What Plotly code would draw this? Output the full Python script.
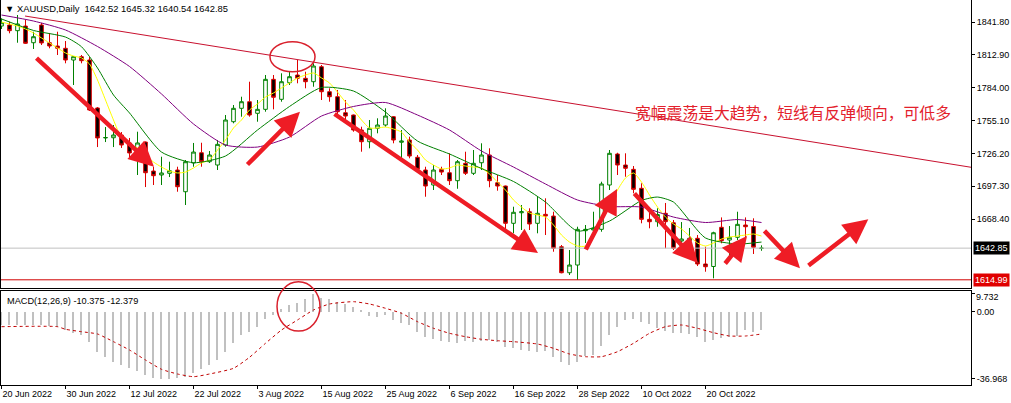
import pandas as pd
import plotly.graph_objects as go
from plotly.subplots import make_subplots

# daily bars, one per business day
dates = pd.bdate_range("2022-06-20", periods=96)

opens = [1838.3, 1839.2, 1834.2, 1838.3, 1823.6, 1839.2, 1823.6, 1820.7, 1818.7, 1808.4,
         1811.3, 1808.4, 1766.2, 1739.8, 1740.0, 1742.4, 1735.4, 1723.0, 1736.2, 1710.7,
         1707.2, 1708.7, 1711.6, 1692.5, 1717.8, 1726.8, 1718.9, 1716.0, 1733.6, 1754.1,
         1765.9, 1771.7, 1761.5, 1765.0, 1791.4, 1773.8, 1788.4, 1795.2, 1792.3, 1789.3,
         1802.5, 1780.5, 1776.1, 1762.0, 1760.0, 1746.8, 1736.5, 1748.3, 1751.2, 1758.5,
         1736.0, 1738.0, 1722.8, 1711.6, 1698.4, 1712.2, 1709.2, 1702.2, 1717.5, 1708.7,
         1718.0, 1724.8, 1700.4, 1697.5, 1664.7, 1674.0, 1674.9, 1664.7, 1672.6, 1671.1,
         1644.1, 1621.2, 1628.0, 1658.2, 1658.8, 1659.4, 1698.4, 1725.7, 1716.0, 1712.2,
         1695.5, 1668.2, 1666.1, 1673.5, 1665.2, 1649.1, 1649.4, 1651.5, 1628.9, 1626.7,
         1661.2, 1650.0, 1652.4, 1663.2, 1661.9, 1642.52]
highs = [1845.1, 1842.1, 1848.0, 1843.6, 1833.3, 1841.0, 1832.2, 1833.3, 1825.1, 1811.9,
         1812.8, 1811.0, 1767.0, 1749.4, 1751.2, 1745.0, 1739.8, 1745.3, 1736.7, 1714.5,
         1723.3, 1718.9, 1714.5, 1720.4, 1735.4, 1735.6, 1728.3, 1738.0, 1760.0, 1768.8,
         1776.1, 1789.3, 1773.2, 1795.2, 1795.2, 1796.7, 1798.1, 1808.4, 1798.1, 1805.5,
         1804.0, 1783.5, 1782.0, 1773.2, 1760.4, 1749.7, 1755.6, 1757.1, 1765.9, 1759.1,
         1746.8, 1740.9, 1724.8, 1714.5, 1716.0, 1714.5, 1726.3, 1720.4, 1727.7, 1729.2,
         1735.1, 1730.7, 1707.2, 1697.9, 1679.3, 1680.8, 1677.9, 1688.1, 1686.7, 1674.9,
         1645.6, 1641.2, 1661.7, 1663.2, 1674.9, 1701.3, 1729.2, 1726.8, 1726.3, 1715.1,
         1699.9, 1676.4, 1677.9, 1682.6, 1667.6, 1665.8, 1660.6, 1654.4, 1644.1, 1657.3,
         1669.9, 1662.3, 1674.9, 1669.9, 1669.1, 1645.32]
lows = [1835.7, 1831.9, 1823.6, 1822.5, 1818.1, 1821.6, 1818.7, 1812.8, 1805.5, 1786.4,
        1805.5, 1763.5, 1731.8, 1736.2, 1731.8, 1731.0, 1722.2, 1707.2, 1696.6, 1698.4,
        1698.4, 1705.4, 1692.5, 1680.8, 1714.5, 1714.5, 1717.8, 1711.6, 1732.1, 1752.7,
        1758.5, 1758.5, 1754.1, 1762.9, 1765.0, 1771.7, 1786.4, 1787.9, 1783.5, 1784.9,
        1773.2, 1771.7, 1760.0, 1754.1, 1745.3, 1727.7, 1730.7, 1743.9, 1749.7, 1735.1,
        1721.9, 1721.9, 1711.6, 1688.1, 1694.0, 1707.2, 1698.4, 1695.1, 1707.2, 1707.2,
        1711.6, 1696.4, 1693.4, 1658.8, 1655.9, 1658.8, 1658.8, 1655.9, 1654.4, 1639.7,
        1620.7, 1619.2, 1614.99, 1647.4, 1657.3, 1657.3, 1694.0, 1707.2, 1705.7, 1691.1,
        1664.7, 1660.3, 1661.7, 1642.7, 1641.2, 1643.0, 1642.7, 1627.1, 1622.1, 1616.3,
        1647.1, 1636.8, 1650.0, 1650.0, 1637.7, 1640.54]
closes = [1841.2, 1834.2, 1840.1, 1823.1, 1828.9, 1823.4, 1820.7, 1818.7, 1808.4, 1811.3,
          1807.8, 1764.4, 1739.8, 1740.2, 1742.4, 1733.6, 1726.6, 1735.4, 1709.2, 1706.6,
          1709.0, 1711.0, 1696.9, 1718.9, 1727.4, 1718.9, 1724.8, 1734.2, 1755.6, 1765.9,
          1771.7, 1760.0, 1765.0, 1791.4, 1775.6, 1789.3, 1793.7, 1792.3, 1789.3, 1803.1,
          1780.5, 1776.1, 1762.9, 1759.1, 1746.8, 1736.5, 1748.3, 1751.2, 1759.1, 1738.0,
          1737.1, 1723.9, 1712.2, 1697.5, 1711.6, 1709.8, 1702.2, 1718.9, 1708.7, 1717.5,
          1724.8, 1702.2, 1697.5, 1664.7, 1674.4, 1674.9, 1664.1, 1673.5, 1671.1, 1642.7,
          1621.2, 1628.0, 1659.4, 1659.4, 1660.3, 1699.3, 1726.3, 1716.0, 1713.1, 1694.6,
          1668.2, 1666.1, 1672.4, 1666.1, 1642.7, 1650.9, 1651.5, 1628.9, 1626.5, 1656.4,
          1649.4, 1652.4, 1663.8, 1661.7, 1643.6, 1642.85]

ma_fast = [1841.8, 1840.1, 1838.3, 1835.7, 1832.2, 1827.8, 1823.4, 1819.0, 1814.6, 1811.9,
           1810.2, 1804.9, 1790.8, 1773.2, 1755.6, 1739.8, 1733.6, 1731.0, 1724.8, 1718.6,
           1714.2, 1710.7, 1709.0, 1709.8, 1713.4, 1717.8, 1720.4, 1729.2, 1738.0, 1748.6,
           1755.6, 1764.4, 1769.7, 1775.8, 1779.4, 1783.8, 1788.2, 1792.6, 1795.2, 1797.0,
           1792.6, 1788.2, 1780.2, 1771.4, 1764.4, 1755.6, 1748.6, 1748.6, 1749.4, 1747.7,
           1745.0, 1736.2, 1729.2, 1720.4, 1716.0, 1712.5, 1713.4, 1716.0, 1715.1, 1714.2,
           1713.4, 1708.1, 1701.0, 1694.0, 1685.2, 1679.0, 1673.8, 1672.0, 1670.2, 1663.2,
           1654.4, 1648.2, 1644.7, 1644.7, 1654.4, 1667.6, 1680.8, 1694.0, 1704.6, 1709.0,
           1701.0, 1689.6, 1679.0, 1670.2, 1664.1, 1659.7, 1653.5, 1647.4, 1644.7, 1647.4,
           1650.9, 1652.6, 1653.5, 1654.4, 1655.3, 1653.5]
ma_mid_idx = [0, 4, 8, 10, 12, 14, 16, 20, 24, 28, 32, 36, 40, 44, 48, 52, 56, 60, 64, 68,
              72, 76, 80, 82, 84, 88, 92, 95]
ma_mid = [1844.5, 1834.4, 1828.6, 1820.1, 1801.4, 1777.6, 1761.8, 1727.4, 1718.0, 1723.9,
          1746.8, 1767.5, 1784.2, 1781.1, 1762.6, 1737.1, 1725.7, 1712.9, 1701.5, 1683.4,
          1657.9, 1666.7, 1684.8, 1687.8, 1683.4, 1651.8, 1646.5, 1648.2]
ma_slow_idx = [0, 4, 8, 12, 16, 20, 24, 28, 32, 36, 40, 44, 48, 52, 56, 60, 64, 68, 72, 76,
               80, 84, 88, 92, 95]
ma_slow = [1848.0, 1842.7, 1834.8, 1820.3, 1802.7, 1778.5, 1752.1, 1733.6, 1731.8, 1740.6,
           1759.1, 1767.5, 1771.0, 1760.0, 1746.8, 1728.3, 1714.2, 1699.3, 1685.2, 1679.5,
           1679.0, 1670.2, 1665.4, 1668.0, 1665.4]

# MACD(12,26,9)
macd_hist = [-7.42, -7.42, -7.42, -7.58, -7.42, -7.58, -7.80, -8.35, -10.17, -11.98,
             -12.91, -16.59, -22.09, -24.84, -27.58, -29.40, -31.21, -32.53, -34.89, -36.71,
             -36.97, -36.90, -36.70, -35.83, -33.96, -31.76, -29.40, -26.65, -22.09, -17.47,
             -12.91, -11.10, -8.35, -4.29, -1.92, 1.21, 3.57, 4.84, 6.70, 9.73,
             7.25, 6.70, 5.39, 4.12, 2.64, 0.82, -2.47, -3.19, -1.92, -4.67,
             -6.15, -7.42, -11.10, -14.18, -15.28, -16.05, -16.59, -17.14, -16.21, -16.59,
             -16.05, -15.66, -16.59, -19.34, -20.22, -21.16, -21.70, -22.09, -21.54, -24.84,
             -27.58, -29.40, -27.58, -24.45, -23.90, -18.96, -12.91, -8.35, -4.67, -4.12,
             -5.60, -6.87, -9.23, -10.55, -11.98, -11.98, -12.36, -14.18, -16.59, -15.66,
             -14.73, -13.85, -13.46, -10.17, -11.10, -10.375]
signal_idx = [0, 7, 8, 10, 12, 14, 16, 18, 20, 22, 24, 26, 29, 31, 33, 35, 37, 39, 41, 44,
              46, 48, 50, 52, 54, 56, 58, 60, 62, 64, 67, 69, 71, 73, 75, 77, 79, 81, 83, 85,
              87, 89, 91, 93, 95]
signal = [-8.35, -8.35, -9.78, -11.10, -12.36, -16.59, -21.16, -26.65, -31.76, -34.34,
          -35.83, -34.34, -31.21, -25.17, -17.47, -10.17, -4.67, 0.82, 4.12, 5.39,
          4.12, 1.76, -0.99, -5.60, -9.23, -11.98, -13.85, -15.28, -16.05, -16.59,
          -17.86, -20.22, -23.35, -24.84, -24.84, -22.09, -17.47, -11.98, -8.35, -7.42,
          -9.23, -11.65, -13.46, -13.46, -12.379]

price_ticks = [1841.80, 1812.90, 1784.00, 1755.10, 1726.20, 1697.30, 1668.40]
macd_ticks = [9.732, 0.0, -36.968]
date_ticks = ["2022-06-20", "2022-06-30", "2022-07-12", "2022-07-22", "2022-08-03",
              "2022-08-15", "2022-08-25", "2022-09-06", "2022-09-16", "2022-09-28",
              "2022-10-10", "2022-10-20"]

bid_price = 1642.85
low_line = 1614.99
trend_idx = [2.94, 121.19]
trend_px = [1847.1, 1714.0]

# hand-drawn arrows: (tail bar, tail price, head bar, head price)
arrows = [
    (4.19, 1811.3, 19.06, 1714.5),
    (30.56, 1715.1, 37.31, 1762.9),
    (41.44, 1761.8, 67.06, 1638.6),
    (72.94, 1640.3, 76.94, 1694.9),
    (78.94, 1692.2, 87.06, 1629.8),
    (90.31, 1628.0, 93.19, 1653.5),
    (95.19, 1659.4, 99.81, 1625.1),
    (100.69, 1626.5, 108.35, 1668.2),
]
note = "宽幅震荡是大趋势，短线有反弹倾向，可低多"
header = "▼ XAUUSD,Daily  1642.52 1645.32 1640.54 1642.85"
macd_label = "MACD(12,26,9) -10.375 -12.379"

FONT = "Liberation Sans"
RED = "#ee1c25"

x = list(range(len(dates)))

fig = make_subplots(rows=2, cols=1, shared_xaxes=True, vertical_spacing=0)

fig.add_trace(go.Candlestick(
    x=x, open=opens, high=highs, low=lows, close=closes,
    increasing=dict(line=dict(color="#008000", width=1), fillcolor="white"),
    decreasing=dict(line=dict(color="#e00000", width=1), fillcolor="black"),
    showlegend=False, hoverinfo="skip"
), row=1, col=1)

for xs, ys, color in [(x, ma_fast, "#ffff00"),
                      (ma_mid_idx, ma_mid, "#008000"),
                      (ma_slow_idx, ma_slow, "#800080")]:
    fig.add_trace(go.Scatter(
        x=xs, y=ys, mode="lines", showlegend=False, hoverinfo="skip",
        line=dict(color=color, width=1, shape="spline", smoothing=0.6)
    ), row=1, col=1)

fig.add_trace(go.Scatter(
    x=trend_idx, y=trend_px, mode="lines", showlegend=False, hoverinfo="skip",
    line=dict(color="#c8102e", width=1)
), row=1, col=1)

fig.add_trace(go.Bar(
    x=x, y=macd_hist, width=0.14, marker=dict(color="#c0c0c0", line=dict(width=0)),
    showlegend=False, hoverinfo="skip"
), row=2, col=1)
fig.add_trace(go.Scatter(
    x=signal_idx, y=signal, mode="lines", showlegend=False, hoverinfo="skip",
    line=dict(color="#c00000", width=1, dash="dot", shape="spline", smoothing=0.5)
), row=2, col=1)

# horizontal price lines
fig.add_shape(type="line", xref="paper", x0=0, x1=1, yref="y", y0=bid_price, y1=bid_price,
              line=dict(color="#c0c0c0", width=1))
fig.add_shape(type="line", xref="paper", x0=0, x1=1, yref="y", y0=low_line, y1=low_line,
              line=dict(color="#d00000", width=1))

# circles
fig.add_shape(type="circle", xref="x", yref="y", x0=33.56, x1=39.19, y0=1798.1, y1=1824.5,
              line=dict(color="#d9202c", width=1.5))
fig.add_shape(type="circle", xref="x2", yref="paper", x0=34.44, x1=39.81, y0=0.140, y1=0.268,
              line=dict(color="#d9202c", width=1.5))

for ti, tp, hi, hp in arrows:
    fig.add_annotation(
        x=hi, y=hp, ax=ti, ay=tp, xref="x", yref="y", axref="x", ayref="y",
        text="", showarrow=True, arrowhead=2, arrowsize=1.1, arrowwidth=4.5,
        arrowcolor=RED, standoff=0
    )

fig.add_annotation(x=78.9, y=1762.6, xref="x", yref="y", text=note, showarrow=False,
                   xanchor="left", yanchor="middle",
                   font=dict(family="Noto Sans CJK SC", size=15.8, color="#e3202b"))

fig.add_annotation(x=0, y=1, xref="paper", yref="paper", text=header, showarrow=False,
                   xanchor="left", yanchor="top", xshift=2, yshift=-1,
                   font=dict(family=FONT, size=9.4, color="black"))
fig.add_annotation(x=0, y=0.2442, xref="paper", yref="paper", text=macd_label,
                   showarrow=False, xanchor="left", yanchor="top", xshift=4, yshift=-3,
                   font=dict(family=FONT, size=9.2, color="black"))

# MACD window max label sits just under its tick, as in the terminal
fig.add_annotation(x=1, y=macd_ticks[0], xref="paper", yref="y2", text=f"{macd_ticks[0]:.3f}",
                   showarrow=False, xanchor="left", xshift=3, yshift=-3,
                   font=dict(family=FONT, size=9, color="black"))

for price, bg in [(bid_price, "black"), (low_line, "#e00000")]:
    fig.add_annotation(x=1, y=price, xref="paper", yref="y", text=f"{price:.2f}",
                       showarrow=False, xanchor="left", xshift=2, bgcolor=bg, borderpad=1,
                       font=dict(family=FONT, size=9, color="white"))

tick_pos = [dates.get_loc(pd.Timestamp(d)) for d in date_ticks]
tick_txt = [f"{pd.Timestamp(d).day} {pd.Timestamp(d):%b %Y}" for d in date_ticks]

axis_font = dict(family=FONT, size=9, color="black")
fig.update_xaxes(range=[-0.0625, 121.1875], showgrid=False, zeroline=False,
                 rangeslider_visible=False)
fig.update_xaxes(showline=True, linecolor="black", linewidth=1, mirror=False,
                 showticklabels=False, ticks="", row=1, col=1)
fig.update_xaxes(showline=True, linecolor="black", linewidth=1, mirror=True,
                 tickvals=tick_pos, ticktext=tick_txt, ticks="outside", ticklen=3,
                 tickcolor="black", ticklabelposition="outside right", tickfont=axis_font,
                 row=2, col=1)
fig.update_yaxes(domain=[0.2519, 1.0], range=[1607.76, 1861.2], side="right",
                 showgrid=False, zeroline=False, showline=True, mirror=True,
                 linecolor="black", linewidth=1, ticks="outside", ticklen=3,
                 tickcolor="black", tickvals=price_ticks,
                 ticktext=[f"{p:.2f}" for p in price_ticks], tickfont=axis_font,
                 row=1, col=1)
fig.update_yaxes(domain=[0.0, 0.2442], range=[-40.38, 11.26], side="right",
                 showgrid=False, zeroline=False, showline=True, mirror=True,
                 linecolor="black", linewidth=1, ticks="outside", ticklen=3,
                 tickcolor="black", tickvals=macd_ticks,
                 ticktext=["", "0.00", "-36.968"], tickfont=axis_font,
                 row=2, col=1)

fig.update_layout(
    width=1011, height=403,
    margin=dict(l=1, r=40, t=0, b=18),
    plot_bgcolor="white", paper_bgcolor="white",
    boxgap=0.35, bargap=0, showlegend=False,
    font=dict(family=FONT, size=9, color="black")
)

# page body has a default 8px margin; drop it so the figure sits at the window origin
fig.write_html("out.html", config={"displayModeBar": False},
               post_script="document.body.style.margin='0';document.body.style.overflow='hidden';")
